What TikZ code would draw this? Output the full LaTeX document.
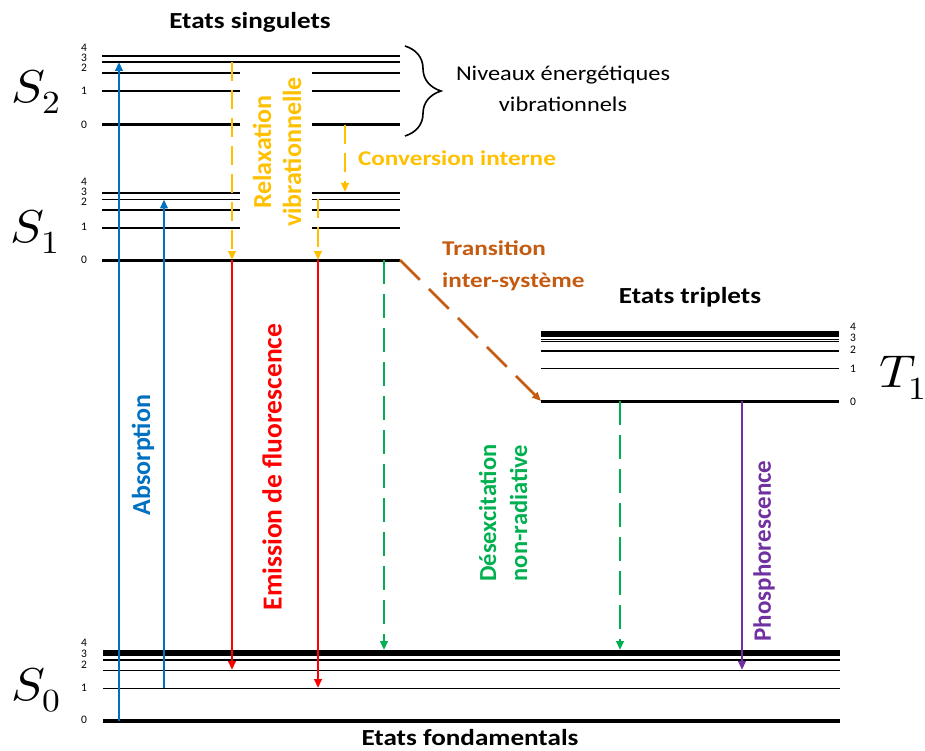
\documentclass[tikz,border=0pt]{standalone}
\usepackage{fontspec}
\usepackage{unicode-math}
\setmainfont{Carlito}
\setmathfont{Latin Modern Math}
\usetikzlibrary{arrows.meta,decorations.pathreplacing}
\definecolor{cblue}{HTML}{0070C0}
\definecolor{corange}{HTML}{FFC000}
\definecolor{cred}{HTML}{FF0000}
\definecolor{cgreen}{HTML}{00B050}
\definecolor{cpurple}{HTML}{7030A0}
\definecolor{cbrown}{HTML}{C55A11}
\begin{document}
\begin{tikzpicture}[x=1pt,y=-1pt,
  lvl/.style={line width=1.8pt},
  lvlb/.style={line width=3pt},
  lvlt/.style={line width=5.5pt},
  num/.style={font=\fontsize{11.5}{11.5}\selectfont, inner sep=0pt},
  arr/.style={line width=2.7pt, -{Triangle[length=9pt,width=7.5pt]}},
  odash/.style={arr, corange, dash pattern=on 19pt off 9pt},
  gdash/.style={arr, cgreen, dash pattern=on 24pt off 10pt},
  title/.style={font=\fontsize{23}{23}\selectfont\bfseries, xscale=1.18, inner sep=0pt},
  rlab/.style={rotate=90, align=center, inner sep=0pt},
  hlab/.style={font=\fontsize{21}{32}\selectfont\bfseries, xscale=1.2, inner sep=0pt},
  state/.style={font=\fontsize{46}{46}\selectfont, xscale=1.1, inner sep=0pt}
]
\useasboundingbox (0,0) rectangle (925,751);

% ---------- S2 levels
\draw[lvl] (102,56) -- (400,56);
\draw[lvl] (102,62) -- (400,62);
\draw[lvl] (102,73) -- (240,73);  \draw[lvl] (312,73) -- (400,73);
\draw[lvl] (102,91) -- (240,91);  \draw[lvl] (312,91) -- (400,91);
\draw[lvlb] (102,124.5) -- (240,124.5); \draw[lvlb] (312,124.5) -- (400,124.5);
\node[num] (s2n4) at (84,48) {4};
\node[num] (s2n3) at (84,58) {3};
\node[num] (s2n2) at (84,68) {2};
\node[num] (s2n1) at (84,91) {1};
\node[num] (s2n0) at (84,125) {0};

% ---------- S1 levels
\draw[lvl] (102,193) -- (240,193); \draw[lvl] (312,193) -- (400,193);
\draw[lvl] (102,199.5) -- (240,199.5); \draw[lvl] (312,199.5) -- (400,199.5);
\draw[lvl] (102,210) -- (240,210); \draw[lvl] (312,210) -- (400,210);
\draw[lvl] (102,228) -- (240,228); \draw[lvl] (312,228) -- (400,228);
\draw[lvlb] (102,260.5) -- (400,260.5);
\node[num] (s1n4) at (84,182) {4};
\node[num] (s1n3) at (84,192) {3};
\node[num] (s1n2) at (84,202) {2};
\node[num] (s1n1) at (84,227) {1};
\node[num] (s1n0) at (84,260) {0};

% ---------- T1 levels
\draw[lvlt] (541,334) -- (839,334);
\draw[line width=1.2pt] (541,339.5) -- (839,339.5);
\draw[line width=1.2pt] (541,341.8) -- (839,341.8);
\draw[lvl] (541,351) -- (839,351);
\draw[lvl] (541,368.5) -- (839,368.5);
\draw[lvlb] (541,401.5) -- (839,401.5);
\node[num] (t1n4) at (853,327) {4};
\node[num] (t1n3) at (853,338) {3};
\node[num] (t1n2) at (853,349.5) {2};
\node[num] (t1n1) at (853,369) {1};
\node[num] (t1n0) at (853,402) {0};

% ---------- S0 levels
\draw[line width=6pt] (103,653) -- (840,653);
\draw[lvl] (103,660) -- (840,660);
\draw[lvl] (103,670.5) -- (840,670.5);
\draw[lvl] (103,688.5) -- (840,688.5);
\draw[line width=4pt] (103,721) -- (840,721);
\node[num] (s0n4) at (84,643) {4};
\node[num] (s0n3) at (84,654) {3};
\node[num] (s0n2) at (84,665) {2};
\node[num] (s0n1) at (84,688) {1};
\node[num] (s0n0) at (84,720) {0};

% ---------- state symbols
\node[state] (S2) at (36,92) {$S_2$};
\node[state] (S1) at (35,232) {$S_1$};
\node[state] (S0) at (36,690) {$S_0$};
\node[state] (T1) at (903,378) {$T_1$};

% ---------- titles
\node[title] (tsing) at (250,22) {Etats singulets};
\node[title] (ttrip) at (690,297) {Etats triplets};
\node[title] (tfond) at (470,738) {Etats fondamentals};

% ---------- brace + text
\coordinate (brtop) at (405,46);
\coordinate (brbot) at (405,136);
\draw[line width=1.6pt, decorate, decoration={brace, amplitude=36pt}] (brtop) -- (brbot);
\node[font=\fontsize{21}{31}\selectfont, xscale=1.16, align=center, inner sep=0pt] (niv) at (563,89) {Niveaux énergétiques\\vibrationnels};

% ---------- coordinates for transitions
\coordinate (a0) at (119,721);  \coordinate (a1) at (119,62);
\coordinate (b0) at (164,688);  \coordinate (b1) at (164,199.5);
\coordinate (r1a) at (232,62);  \coordinate (r1b) at (232,260);
\coordinate (r2a) at (318,199.5); \coordinate (r2b) at (318,260);
\coordinate (cia) at (345,125); \coordinate (cib) at (345,192);
\coordinate (f1) at (232,670);  \coordinate (f2) at (318,688);
\coordinate (g1a) at (384,260); \coordinate (g1b) at (384,650);
\coordinate (g2a) at (620,401); \coordinate (g2b) at (620,650);
\coordinate (isca) at (400,260); \coordinate (iscb) at (541,401);
\coordinate (pa) at (742,401); \coordinate (pb) at (742,670);

% ---------- arrows
\draw[arr, cblue] (a0) -- (a1);
\draw[arr, cblue] (b0) -- (b1);
\draw[odash] (r1a) -- (r1b);
\draw[odash] (r2a) -- (r2b);
\draw[odash] (cia) -- (cib);
\draw[arr, cred] (r1b) -- (f1);
\draw[arr, cred] (r2b) -- (f2);
\draw[gdash] (g1a) -- (g1b);
\draw[gdash] (g2a) -- (g2b);
\draw[arr, cbrown, dash pattern=on 28pt off 13pt] (isca) -- (iscb);
\draw[arr, cpurple] (pa) -- (pb);

% ---------- transition labels
\node[rlab, cblue, font=\fontsize{26}{30}\selectfont\bfseries] (labs) at (143,455) {Absorption};
\node[rlab, corange, font=\fontsize{26}{30}\selectfont\bfseries] (lrel) at (277,152) {Relaxation\\vibrationnelle};
\node[rlab, cred, font=\fontsize{27.5}{30}\selectfont\bfseries] (lfl) at (272,467) {Emission de fluorescence};
\node[rlab, cgreen, font=\fontsize{24.5}{31}\selectfont\bfseries] (lnr) at (503,513) {Désexcitation\\non-radiative};
\node[rlab, cpurple, font=\fontsize{25}{30}\selectfont\bfseries] (lph) at (764,551) {Phosphorescence};
\node[hlab, corange] (lci) at (457,158) {Conversion interne};
\node[hlab, cbrown, align=left, anchor=west] (lisc) at (442,266) {Transition\\inter-système};
\end{tikzpicture}
\end{document}
